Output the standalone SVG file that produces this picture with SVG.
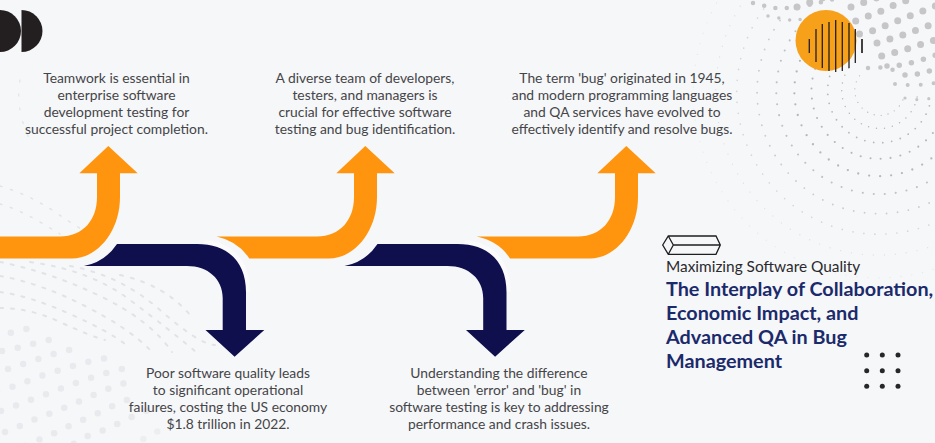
<svg xmlns="http://www.w3.org/2000/svg" width="935" height="443" viewBox="0 0 935 443">
<style>
.body{font-family:"Lato","Liberation Sans",sans-serif;font-size:13.85px;fill:#454548;text-anchor:middle}
.sub{font-family:"Lato","Liberation Sans",sans-serif;font-size:15.4px;fill:#2a2a2e}
.head{font-family:"Lato","Liberation Sans",sans-serif;font-size:19.8px;font-weight:700;fill:#1b2a6b}
.org{fill:#ff950f}.navy{fill:#0f0f4d}
.bd{fill:none;stroke:#c6c6c9;stroke-linecap:round;stroke-dasharray:0 13.5}
.ld{fill:none;stroke:#e9eaed;stroke-linecap:round;stroke-dasharray:0 16;stroke-width:6.5}
.sd{fill:none;stroke:#b6b8bc;stroke-linecap:round;stroke-dasharray:0 10}
.fd{fill:none;stroke:#e2e3e7;stroke-linecap:round;stroke-width:2;stroke-dasharray:3 8}
.bar{stroke:#231f20;stroke-width:1.3}
</style>
<rect width="935" height="443" fill="#f6f7f9"/>
<g id="background-dots">
<path class="bd" style="stroke-dasharray:0 11.5;stroke-width:4.5" d="M753,3 L774,8 Q790,9 809,5 L834,-1"/>
<path class="bd" style="stroke-dasharray:0 11;stroke-width:3.5" d="M768,16 L790,20 Q800,20 812,18"/>
<g stroke-width="7">
<path class="bd" d="M797,7 L811,2 L825,-3"/>
<path class="bd" d="M851,7 L865,2 L879,-3"/>
<path class="bd" d="M855.7,21 L882,10.7 L896,4.3 L910,-1"/>
<path class="bd" d="M859.5,34 L872.7,30.7 L899.7,20 L926,9.7 L940,4"/>
<path class="bd" d="M877,43 L903,35 L930,25 L945,20"/>
<path class="bd" d="M881.7,56 L907,49 L932.7,40.7 L945,36"/>
</g>
<g stroke-width="5.5">
<path class="bd" style="stroke-dasharray:0 12.4" d="M887,66 Q905,66 924.7,58.7 L945,52"/>
<path class="bd" style="stroke-dasharray:0 12.4;stroke-width:4.5" d="M868,68 Q880,66 893,70"/>
<path class="bd" style="stroke-dasharray:0 12.4" d="M905,75 Q918,75 929,71 L945,66"/>
<path class="bd" style="stroke-dasharray:0 13;stroke-width:4" d="M895,84 Q915,87 940,82"/>
<path class="bd" style="stroke-dasharray:0 12;stroke-width:3.2" d="M905,98 Q920,102 940,96"/>
</g>
<g class="arcs">
<path class="sd" style="stroke-dasharray:0 7" stroke-width="1.3" d="M859.5,75.8 A25,25 0 1 0 904.5,94.3"/>
<path class="sd" style="stroke-dasharray:0 8" stroke-width="1.5" d="M848.8,68.3 A38,38 0 1 0 917.2,96.5"/>
<path class="sd" style="stroke-dasharray:0 9" stroke-width="1.8" d="M837.4,60.4 A52,52 0 1 0 931,98.8"/>
<path class="sd" stroke-width="2.1" d="M824.2,51.2 A68,68 0 1 0 946.6,101.6"/>
<path class="sd" style="stroke-dasharray:0 11" stroke-width="2.3" d="M810.3,41.6 A85,85 0 1 0 963.3,104.5"/>
<path class="sd" style="stroke-dasharray:0 11;stroke:#bfc1c5" stroke-width="2.1" d="M795.5,31.3 A103,103 0 1 0 981,107.5"/>
<path class="sd" style="stroke-dasharray:0 11;stroke:#cbcdd1" stroke-width="1.9" d="M780,20.5 A122,122 0 1 0 999.6,110.7"/>
<path class="sd" style="stroke-dasharray:0 11;stroke:#d6d7db" stroke-width="1.7" d="M763.6,9 A142,142 0 1 0 1019,114"/>
<path class="sd" style="stroke-dasharray:0 11;stroke:#e0e1e4" stroke-width="1.4" d="M746.3,-2.9 A163,163 0 1 0 1039.7,117.7"/>
<path class="sd" style="stroke-dasharray:0 11;stroke:#e6e7ea" stroke-width="1.3" d="M728.3,-15.5 A185,185 0 1 0 1061,121.5"/>
</g>
<path class="ld" d="M-5,335 L10,333 L26,329 L41,327"/>
<path class="ld" d="M2,351 L17,348 L32,344 L48,340 L62,338"/>
<path class="ld" d="M8,369 L23,364 L38,359 L54,354 L69,350 L84,348"/>
<path class="ld" d="M-3,391 L12,387 L28,381 L44,375 L60,370 L76,365 L91,361 L106,358"/>
<path class="ld" d="M1,411 L17,405 L33,399 L49,393 L65,387 L81,381 L97,376 L112,371 L127,368"/>
<path class="ld" d="M5,432 L22,425 L38,418 L54,412 L71,405 L87,398 L103,391 L118,385 L133,381"/>
<path class="ld" d="M10,452 L27,445 L43,438 L59,431 L75,423 L92,416 L108,408 L124,401 L140,395"/>
<path class="ld" d="M60,452 L85,437 L109,428 L125,420 L142,412 L155,408"/>
<path class="ld" style="stroke:#edeef0" d="M130,448 L148,436 L165,428 L180,422"/>
<path class="fd" d="M0,262 Q50,272 100,296 T172,352"/>
<path class="fd" d="M0,276 Q40,283 85,306 T150,350"/>
<path class="fd" d="M0,292 Q30,296 70,314 T125,344"/>
<path class="fd" d="M0,308 Q30,308 60,322 T105,340"/>
<path class="fd" d="M30,262 Q90,270 130,300 T196,352"/>
<path class="fd" d="M70,266 Q120,275 160,310 T215,345"/>
<path class="fd" d="M120,275 Q165,285 190,315"/>
<path class="fd" style="stroke-width:1.4;stroke-dasharray:2 9" d="M0,186 Q30,195 55,212 T90,234"/>
<path class="fd" style="stroke-width:1.4;stroke-dasharray:2 9" d="M0,204 Q20,210 40,222 T60,234"/>
<path class="fd" style="stroke-width:1.2;stroke-dasharray:2 12" d="M20,80 Q15,110 30,140"/>
</g>
<g id="decor-halves"><path d="M0,10 A21,21 0 0 1 0,52 Z" fill="#231f20"/><path d="M21.5,10 A21,21 0 0 1 21.5,52 Z" fill="#231f20"/></g>
<g id="decor-sun">
<circle cx="826" cy="40.5" r="30.5" fill="#f7a01a"/>
<path class="bar" d="M809.3,39V53M816,29V62M822.3,24V68M829,22V71M835.7,20V72M842.3,22V71M849,23V68M855.3,29V63"/>
<path class="bar" style="stroke-width:1.7" d="M862,39V53"/>
</g>
<g id="connectors">
<path fill="#fbfbfc" d="M205,240 C235,243 250,262 250,292 L232,292 C232,270 215,258 195,258 Z"/>
<path fill="#fbfbfc" transform="translate(260.5 0)" d="M205,240 C235,243 250,262 250,292 L232,292 C232,270 215,258 195,258 Z"/>
<path class="org" d="M-2,236.5 H60 C83,236.5 97,220 97,197 V173.3 H79.3 L108.3,146 L137.7,173.3 H120 V197 C120,232 97,258.5 72,258.5 H-2 Z"/>
<path class="navy" d="M84,266 Q105,262 117,244 H197 C228,244 246,262 246,292 V330 H264.3 L234.6,356.7 L205.5,330 H222.7 V298 C222.7,279 208,266 187,266 Z"/>
<path class="org" d="M216.5,236.5 H317 C340,236.5 354,220 354,197 V173.3 H336.3 L365.3,146 L394.7,173.3 H377 V197 C377,232 354,258.5 329,258.5 H249.3 Q238,241 216.5,236.5 Z"/>
<path class="navy" transform="translate(260.5 0)" d="M84,266 Q105,262 117,244 H197 C228,244 246,262 246,292 V330 H264.3 L234.6,356.7 L205.5,330 H222.7 V298 C222.7,279 208,266 187,266 Z"/>
<path class="org" d="M476.5,236.5 H578 C601,236.5 615,220 615,197 V173.3 H597.3 L626.3,146 L655.7,173.3 H638 V197 C638,232 615,258.5 590,258.5 H510 Q499,241 476.5,236.5 Z"/>
</g>
<g id="node-teamwork">
<text class="body" x="116.5" y="83">Teamwork is essential in</text>
<text class="body" x="116.5" y="100">enterprise software</text>
<text class="body" x="116.5" y="117">development testing for</text>
<text class="body" x="116.5" y="134">successful project completion.</text>
</g>
<g id="node-diverse">
<text class="body" x="365" y="83">A diverse team of developers,</text>
<text class="body" x="365" y="100">testers, and managers is</text>
<text class="body" x="365" y="117">crucial for effective software</text>
<text class="body" x="365" y="134">testing and bug identification.</text>
</g>
<g id="node-bug">
<text class="body" x="622" y="83">The term 'bug' originated in 1945,</text>
<text class="body" x="622" y="100">and modern programming languages</text>
<text class="body" x="622" y="117">and QA services have evolved to</text>
<text class="body" x="622" y="134">effectively identify and resolve bugs.</text>
</g>
<g id="node-poor">
<text class="body" x="228" y="378">Poor software quality leads</text>
<text class="body" x="228" y="395">to significant operational</text>
<text class="body" x="228" y="412">failures, costing the US economy</text>
<text class="body" x="228" y="429">$1.8 trillion in 2022.</text>
</g>
<g id="node-error">
<text class="body" x="499" y="378">Understanding the difference</text>
<text class="body" x="499" y="395">between 'error' and 'bug' in</text>
<text class="body" x="499" y="412">software testing is key to addressing</text>
<text class="body" x="499" y="429">performance and crash issues.</text>
</g>
<g id="node-title">
<path d="M662.7,245 L668.3,236 H716 L720.3,245 L716,254.3 H668.3 Z M668.3,236 L673.3,245 L668.3,254.3 M673.3,245 H720.3" fill="none" stroke="#1f1f22" stroke-width="1.3"/>
<text class="sub" x="666" y="272">Maximizing Software Quality</text>
<text class="head" x="666" y="296">The Interplay of Collaboration,</text>
<text class="head" x="666" y="320">Economic Impact, and</text>
<text class="head" x="666" y="344">Advanced QA in Bug</text>
<text class="head" x="666" y="368">Management</text>
</g>
<g id="decor-grid" fill="#27272b">
<circle cx="866.7" cy="355" r="2.5"/><circle cx="882.3" cy="355" r="2.5"/><circle cx="898" cy="355" r="2.5"/>
<circle cx="866.7" cy="370.7" r="2.5"/><circle cx="882.3" cy="370.7" r="2.5"/><circle cx="898" cy="370.7" r="2.5"/>
<circle cx="866.7" cy="386.3" r="2.5"/><circle cx="882.3" cy="386.3" r="2.5"/><circle cx="898" cy="386.3" r="2.5"/>
</g>
</svg>
